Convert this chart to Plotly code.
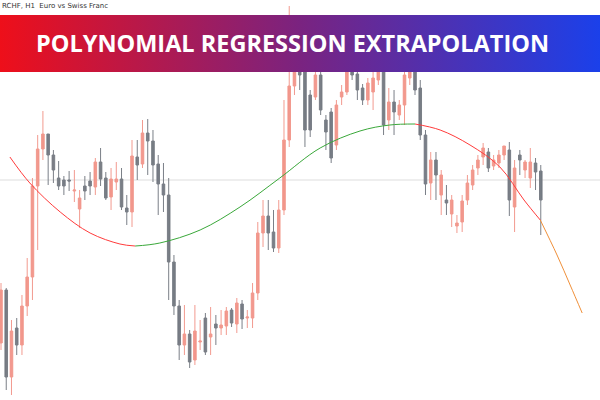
import plotly.graph_objects as go
import base64

# price levels (chart pixel-scale units, axis reversed)
opens = [343,290,377,328,345,306,277,186,149,134,155,178,180,180,191,209,186,181,187,162,178,197,182,179,208,212,157,164,133,141,164,184,195,262,306,345,334,360,342,318,337,324,328,326,310,324,304,318,318,293,233,216,232,248,210,
         140,86,60,72,95,97,75,120,112,145,97,92,65,74,88,100,92,80,60,120,102,115,105,78,55,88,135,183,160,195,200,214,226,222,200,185,168,157,152,166,163,155,150,207,155,170,178,163,171]
closes = [290,377,331,345,306,277,186,149,134,155,170,186,186,181,190,198,191,186,162,179,198,179,179,207,212,156,165,133,141,165,184,195,262,306,345,334,362,331,341,352,334,328,325,311,323,303,319,317,293,233,216,233,248,210,140,
          86,60,75,130,130,75,110,132,158,105,92,65,75,90,100,83,78,60,125,102,112,105,75,55,90,135,184,160,175,175,203,200,223,201,183,170,160,148,168,160,155,146,200,168,160,162,162,172,200]
highs = [283,288,320,318,295,258,178,135,111,134,150,161,176,171,170,190,176,172,158,148,172,168,162,168,195,140,140,120,119,130,155,163,178,255,300,305,330,305,320,313,307,315,310,307,308,298,300,310,283,222,200,200,210,200,100,
         6,45,30,65,90,70,60,115,108,100,85,55,55,70,84,78,70,50,55,88,90,100,70,40,45,80,130,152,152,170,185,195,215,195,175,165,155,143,148,155,150,146,142,160,150,160,148,158,165]
lows = [350,390,395,355,355,316,300,250,160,185,183,190,195,191,202,228,200,195,195,186,200,210,190,210,225,227,180,168,175,182,215,212,300,315,360,355,368,365,350,355,355,345,335,335,327,333,329,328,328,300,247,250,252,253,215,
        147,95,90,147,137,100,115,150,163,150,105,95,80,100,105,105,110,85,135,130,135,120,125,85,95,140,195,200,200,215,215,227,233,232,205,190,175,165,172,170,168,160,216,232,175,178,188,190,235]
idx = list(range(len(opens)))

# regression curve points (bar index, level)
fall1_x = [1.7,5.5,11.3,17,22.7,25.6]
fall1_y = [157,183,212,233,244,246]
rise_x = [25.6,30.3,38,45.6,53.2,60.9,68.5,74.2,79]
rise_y = [246,243,230,207,178,148,131,125,124]
fall2_x = [79,83.8,89.5,95.2,99.8,102.9]
fall2_y = [124,130,145,167,200,220]
ext_x = [102.9,106.1,108.6,110.9]
ext_y = [220,255,285,313]

title = "POLYNOMIAL REGRESSION EXTRAPOLATION"
subtitle = "RCHF, H1  Euro vs Swiss Franc"

fig = go.Figure()
fig.add_trace(go.Candlestick(x=idx, open=opens, high=highs, low=lows, close=closes,
    increasing=dict(line=dict(color="#7a7f87", width=1), fillcolor="#6b7079"),
    decreasing=dict(line=dict(color="#f29a8f", width=1), fillcolor="#f08a7e"),
    whiskerwidth=0, opacity=1, showlegend=False, hoverinfo="skip"))
for xs, ys, c in [(fall1_x, fall1_y, "#ff3b3b"), (rise_x, rise_y, "#3aa83a"),
                  (fall2_x, fall2_y, "#ff3b3b"), (ext_x, ext_y, "#f0903a")]:
    fig.add_trace(go.Scatter(x=xs, y=ys, mode="lines", line=dict(color=c, width=1, shape="spline"),
                             showlegend=False, hoverinfo="skip"))

svg = ('<svg xmlns="http://www.w3.org/2000/svg" width="600" height="57"><defs>'
       '<linearGradient id="g" x1="0" x2="1" y1="0" y2="0">'
       '<stop offset="0" stop-color="#ee0f1a"/><stop offset="0.5" stop-color="#7a2380"/>'
       '<stop offset="1" stop-color="#1b40ea"/></linearGradient></defs>'
       '<rect width="600" height="57" fill="url(#g)"/></svg>')
src = "data:image/svg+xml;base64," + base64.b64encode(svg.encode()).decode()
fig.add_layout_image(dict(source=src, xref="paper", yref="paper", x=0, y=1 - 15/400,
                          sizex=1, sizey=57/400, xanchor="left", yanchor="top",
                          sizing="stretch", layer="above"))
fig.add_annotation(text=f"<b>{title}</b>", xref="paper", yref="paper", x=0.487, y=1 - 43/400,
                   xanchor="center", yanchor="middle",
                   showarrow=False, font=dict(family="Open Sans", size=23.5, color="white"))
fig.add_annotation(text=subtitle, xref="paper", yref="paper", x=0, y=1, xanchor="left", yanchor="top",
                   showarrow=False, font=dict(family="DejaVu Sans", size=7, color="#333"))
fig.add_shape(type="line", xref="paper", yref="y", x0=0, x1=1, y0=180, y1=180,
              line=dict(color="#dddddd", width=1), layer="below")

fig.update_layout(width=600, height=400, margin=dict(l=0, r=0, t=0, b=0),
                  plot_bgcolor="white", paper_bgcolor="white",
                  xaxis=dict(range=[-0.19, 114.3], visible=False, rangeslider=dict(visible=False)),
                  yaxis=dict(range=[400, 0], visible=False))
fig.write_html("out.html", config={"displayModeBar": False},
               post_script="document.body.style.margin='0';")
